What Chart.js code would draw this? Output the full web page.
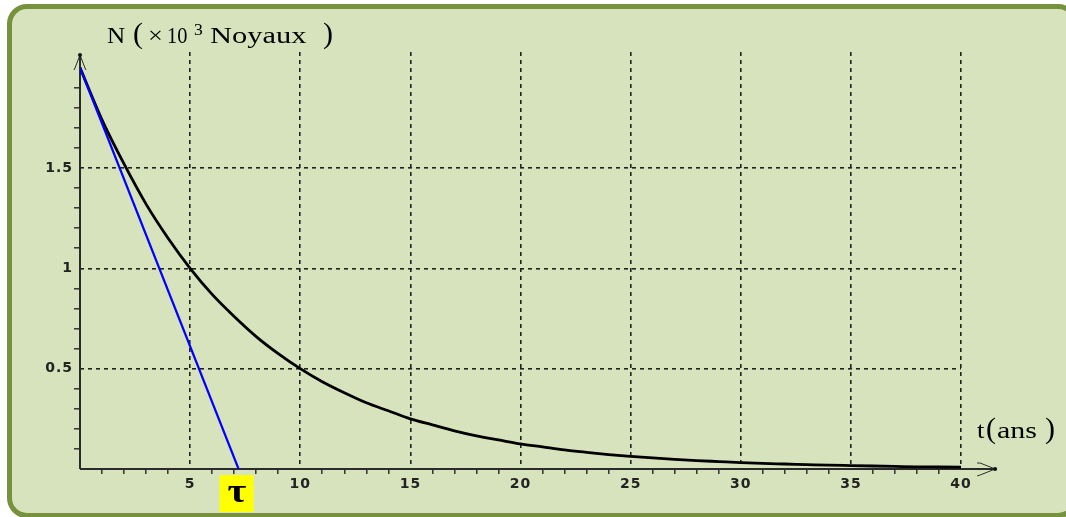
<!DOCTYPE html>
<html><head><meta charset="utf-8">
<script src="https://cdn.jsdelivr.net/npm/chart.js@4.4.0/dist/chart.umd.min.js"></script>
<style>
html,body{margin:0;padding:0;background:#fff;overflow:hidden;width:1066px;height:517px;}
#frame{position:absolute;left:7px;top:4px;width:1071px;height:514px;box-sizing:border-box;border:5px solid #76923C;border-radius:20px;background:#D7E3BC;}
#c{position:absolute;left:0;top:0;}
</style></head><body>
<div id="frame"></div>
<canvas id="c" width="1066" height="517"></canvas>
<script>
// ---- data ----
const tValues = [0,1,2,3,4,5,6,7,8,9,10,11,12,13,14,15,16,17,18,19,20,21,22,23,24,25,26,27,28,29,30,31,32,33,34,35,36,37,38,39,40];
const nValues = [2.00,1.74,1.52,1.32,1.15,1.00,0.87,0.76,0.66,0.575,0.50,0.435,0.38,0.33,0.29,0.25,0.22,0.19,0.165,0.145,0.125,0.11,0.095,0.083,0.072,0.063,0.055,0.048,0.042,0.037,0.032,0.028,0.025,0.022,0.019,0.017,0.015,0.013,0.011,0.010,0.009];
const tangentT = [0, 7.2];
const tangentN = [2, 0];
const xMajorTicks = [5,10,15,20,25,30,35,40];
const xTickLabels = ['5','10','15','20','25','30','35','40'];
const yMajorTicks = [0.5,1,1.5];
const yTickLabels = ['0.5','1','1.5'];
const xMinorTicks = [1,2,3,4,6,7,8,9,11,12,13,14,16,17,18,19,21,22,23,24,26,27,28,29,31,32,33,34,36,37,38,39];
const yMinorTicks = [0.1,0.2,0.3,0.4,0.6,0.7,0.8,0.9,1.1,1.2,1.3,1.4,1.6,1.7,1.8,1.9];
const yAxisLabel = ['N', '(', '×', '10', '3', 'Noyaux', ')'];
const xAxisLabel = ['t', '(', 'ans', ')'];
const tauLabel = 'τ';

const curvePts = tValues.map((t,i)=>({x:t,y:nValues[i]}));
const tangentPts = tangentT.map((t,i)=>({x:t,y:tangentN[i]}));

function isMajor(list, v){ return list.some(m=>Math.abs(m-v)<1e-6); }
function labelFor(list, labels, v){ const i=list.findIndex(m=>Math.abs(m-v)<1e-6); return i>=0?labels[i]:''; }

function drawScaled(ctx, text, x, y, font, sx){
  ctx.save(); ctx.translate(x,y); ctx.scale(sx,1); ctx.font=font; ctx.fillText(text,0,0); ctx.restore();
}

const decor = {
  id:'decor',
  beforeDraw(chart){ chart.ctx.letterSpacing='1px'; },
  beforeDatasetsDraw(chart){
    const ctx=chart.ctx, xs=chart.scales.x, ys=chart.scales.y;
    const x0=xs.getPixelForValue(0), y0=ys.getPixelForValue(0);
    const yTop=ys.getPixelForValue(2.063), xEnd=xs.getPixelForValue(41.55);
    ctx.save();
    ctx.strokeStyle='#2b2b2b'; ctx.lineWidth=2;
    ctx.beginPath(); ctx.moveTo(x0,y0); ctx.lineTo(x0,yTop); ctx.stroke();
    ctx.beginPath(); ctx.moveTo(x0,y0); ctx.lineTo(xEnd,y0); ctx.stroke();
    ctx.lineWidth=1;
    ctx.beginPath();
    ctx.moveTo(x0-5,yTop+13); ctx.lineTo(x0,yTop); ctx.lineTo(x0+5,yTop+13);
    ctx.moveTo(x0-5,yTop+13); ctx.lineTo(x0-6,yTop+15);
    ctx.moveTo(x0+5,yTop+13); ctx.lineTo(x0+6,yTop+15);
    ctx.stroke();
    ctx.beginPath();
    ctx.moveTo(xEnd-15,y0-6); ctx.lineTo(xEnd,y0); ctx.lineTo(xEnd-15,y0+6);
    ctx.moveTo(xEnd-15,y0-6); ctx.lineTo(xEnd-18,y0-6);
    ctx.moveTo(xEnd-15,y0+6); ctx.lineTo(xEnd-18,y0+7);
    ctx.stroke();
    ctx.fillStyle='#111';
    ctx.beginPath(); ctx.arc(x0,yTop,2,0,Math.PI*2); ctx.fill();
    ctx.beginPath(); ctx.arc(xEnd,y0,2,0,Math.PI*2); ctx.fill();
    ctx.restore();
  },
  afterDraw(chart){
    const ctx=chart.ctx, xs=chart.scales.x, ys=chart.scales.y;
    ctx.save();
    ctx.letterSpacing='0px';
    ctx.fillStyle='#000';
    ctx.textBaseline='alphabetic'; ctx.textAlign='left';
    const big='24px "Liberation Serif"', par='30px "Liberation Serif"', small='16px "Liberation Serif"';
    const yl=[[107,43,big,1.05],[133,43,par,1],[148,43,big,1.1],[167,43,big,0.85],[194,35,small,1.1],[210,43,big,1.27],[323,43,par,1]];
    yAxisLabel.forEach((s,i)=>drawScaled(ctx,s,yl[i][0],yl[i][1],yl[i][2],yl[i][3]));
    const xl=[[977,438,big,1.1],[986,438,par,1],[997,438,big,1.25],[1045,438,par,1]];
    xAxisLabel.forEach((s,i)=>drawScaled(ctx,s,xl[i][0],xl[i][1],xl[i][2],xl[i][3]));
    // tau box
    const tx=xs.getPixelForValue(tangentT[1]), ty=ys.getPixelForValue(0);
    ctx.fillStyle='#FFFF00';
    ctx.fillRect(tx-19,ty+6,34,37);
    ctx.fillStyle='#000';
    drawScaled(ctx,tauLabel,tx-11,ty+33,'bold 34px "Liberation Serif"',1.2);
    ctx.restore();
  }
};

new Chart(document.getElementById('c'),{
  type:'scatter',
  data:{datasets:[
    {label:'tangente',data:tangentPts,showLine:true,borderColor:'#0000FF',borderWidth:2.2,pointRadius:0,order:0},
    {label:'N(t)',data:curvePts,showLine:true,borderColor:'#000000',borderWidth:2.8,pointRadius:0,cubicInterpolationMode:'monotone',order:1}
  ]},
  options:{
    responsive:false, animation:false, devicePixelRatio:1,
    layout:{padding:{left:0,top:52,right:105,bottom:0}},
    plugins:{legend:{display:false},tooltip:{enabled:false}},
    scales:{
      x:{type:'linear',min:0,max:40,
        afterBuildTicks:s=>{s.ticks=xMajorTicks.concat(xMinorTicks).sort((a,b)=>a-b).map(v=>({value:v}));},
        afterFit:s=>{s.height=48;},
        border:{display:false,dash:[4,4]},
        grid:{color:c=>isMajor(xMajorTicks,c.tick.value)?'#222':'rgba(0,0,0,0)',lineWidth:1.6,
          tickColor:c=>isMajor(xMajorTicks,c.tick.value)?'rgba(0,0,0,0)':'#333',tickLength:5,tickWidth:1.5},
        ticks:{autoSkip:false,maxRotation:0,padding:2,color:'#222',font:{family:'"DejaVu Sans"',weight:'bold',size:14},
          callback:v=>labelFor(xMajorTicks,xTickLabels,v)}
      },
      y:{type:'linear',min:0,max:2.078,
        afterBuildTicks:s=>{s.ticks=yMajorTicks.concat(yMinorTicks).sort((a,b)=>a-b).map(v=>({value:v}));},
        afterFit:s=>{s.width=80;},
        border:{display:false,dash:[4,4]},
        grid:{color:c=>isMajor(yMajorTicks,c.tick.value)?'#222':'rgba(0,0,0,0)',lineWidth:1.6,
          tickColor:c=>isMajor(yMajorTicks,c.tick.value)?'rgba(0,0,0,0)':'#333',tickLength:6,tickWidth:1.5},
        ticks:{autoSkip:false,padding:1,color:'#222',font:{family:'"DejaVu Sans"',weight:'bold',size:14},
          callback:v=>labelFor(yMajorTicks,yTickLabels,v)}
      }
    }
  },
  plugins:[decor]
});
</script>
</body></html>
